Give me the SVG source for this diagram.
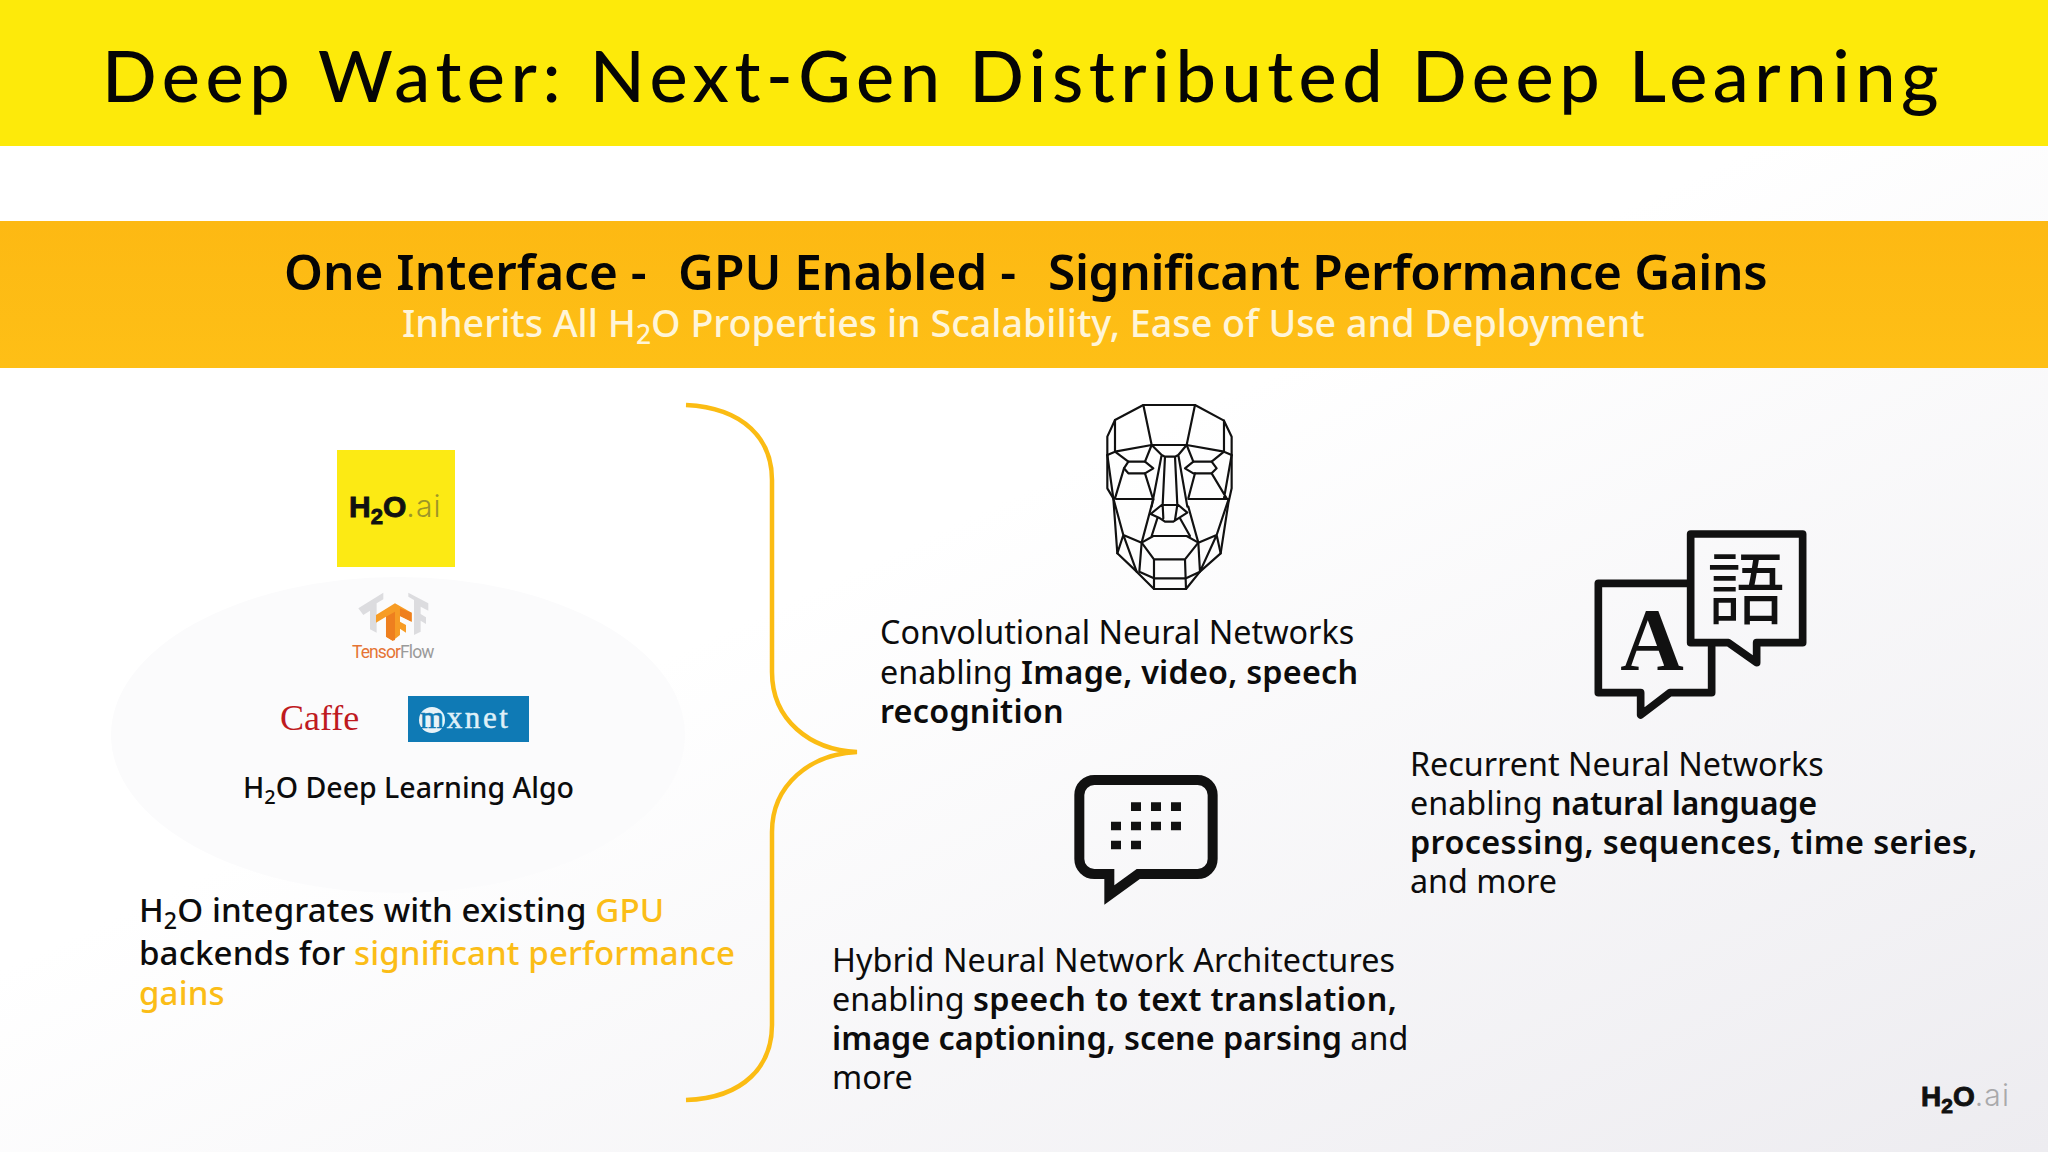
<svg xmlns="http://www.w3.org/2000/svg" width="2048" height="1152" viewBox="0 0 2048 1152">
<defs>
<linearGradient id="bg" x1="0.25" y1="0.1" x2="1" y2="1"><stop offset="0.35" stop-color="#ffffff"/><stop offset="1" stop-color="#edecf0"/></linearGradient>
<linearGradient id="band" x1="0" y1="0" x2="0" y2="1"><stop offset="0" stop-color="#fdb913"/><stop offset="1" stop-color="#febf16"/></linearGradient>
</defs>
<style>
text{font-family:"Noto Sans","Open Sans",sans-serif;fill:#0c0c0c}
.b{font-size:32.3px;font-weight:400}
.s{font-weight:600;letter-spacing:.25px}
.y{fill:#fbbd17}
.sub{font-size:70%}
.logo{font-family:"Liberation Sans",sans-serif;font-weight:700;stroke:#111;stroke-width:.9;fill:#111}
.ai{font-family:Inter,sans-serif;font-weight:300;stroke:none;letter-spacing:1.2px}
.face{fill:none;stroke:#111;stroke-width:6.5;stroke-linejoin:round;stroke-linecap:round}
</style>
<rect width="2048" height="1152" fill="url(#bg)"/>
<g id="title-band">
<rect width="2048" height="146" fill="#fdea0a"/>
<text x="102" y="102" style="font-family:Lato,sans-serif;font-size:72px;font-weight:500;letter-spacing:5.55px;fill:#050505">Deep Water: Next-Gen Distributed Deep Learning</text>
</g>
<g id="subtitle-band">
<rect y="221" width="2048" height="147" fill="url(#band)"/>
<text x="284" y="290" style="font-size:49.5px;font-weight:600;fill:#050505">One Interface - <tspan x="678">GPU Enabled - </tspan><tspan x="1048" style="letter-spacing:-.35px">Significant Performance Gains</tspan></text>
<text x="402" y="337" style="font-size:37.7px;font-weight:500;fill:#fff5d8">Inherits All H<tspan class="sub" dy="7" style="fill:#fff5d8">2</tspan><tspan dy="-7" style="fill:#fff5d8">O Properties in Scalability, Ease of Use and Deployment</tspan></text>
</g>
<g id="backends">
<ellipse cx="398" cy="735" rx="287" ry="158" fill="#fbfbfc"/>
<g id="h2o-logo">
<rect x="337" y="450" width="118" height="117" fill="#fcea14"/>
<text class="logo" x="349" y="517" font-size="30">H<tspan dy="7" font-size="22">2</tspan><tspan dy="-7">O</tspan><tspan class="ai" fill="#9c9628" font-size="30">.ai</tspan></text>
</g>
<g id="tensorflow-logo">
<path transform="translate(240 440) scale(.3333)" d="M355,505L430,458V478L410,490V578L390,568V512L370,525ZM505,458L565,490V512L542,500V522L558,532V552L542,542V575L522,585V480L505,470Z" fill="#dcdcdf"/>
<path transform="translate(240 440) scale(.3333)" d="M408,525L465,490L515,518V545L480,528V545L498,555V578L480,566V585L458,602L438,590V530L408,548Z" fill="#f79c25"/>
<path transform="translate(240 440) scale(.3333)" d="M438,530L465,515V600L458,602L438,590ZM480,528L515,545V518L480,505Z" fill="#ee7f1f"/>
<text x="352" y="658" style="font-family:Roboto,sans-serif;font-size:17.5px;letter-spacing:-.9px;fill:#e57434">Tensor<tspan style="fill:#9a9a9a">Flow</tspan></text>
</g>
<g id="caffe-logo">
<text x="280" y="730" style="font-family:'Liberation Serif',serif;font-size:36px;fill:#bf1a1f">Caffe</text>
</g>
<g id="mxnet-logo">
<rect x="408" y="696" width="121" height="46" fill="#0f7ab5"/>
<circle cx="432" cy="720" r="13" fill="#e9f3f8"/>
<text x="420" y="728" style="font-family:'Liberation Serif',serif;font-size:31px;font-weight:400;letter-spacing:2.6px;stroke:#dff0f8;stroke-width:.5;fill:#dff0f8"><tspan style="fill:#0f7ab5;stroke:#0f7ab5">m</tspan>xnet</text>
</g>
<text x="243" y="798" style="font-size:28.5px;font-weight:500">H<tspan class="sub" dy="6">2</tspan><tspan dy="-6">O Deep Learning Algo</tspan></text>
<text class="b" style="font-size:33.1px;font-weight:500;letter-spacing:.1px"><tspan x="139" y="922">H</tspan><tspan class="sub" dy="7">2</tspan><tspan dy="-7">O integrates with existing </tspan><tspan class="y">GPU</tspan><tspan x="139" y="965">backends for </tspan><tspan class="y">significant performance</tspan><tspan class="y" x="139" y="1005">gains</tspan></text>
</g>
<g id="connectors">
<path id="brace" d="M686,405C745,408 772,440 772,480V672C772,720 810,750 857,752C810,754 772,785 772,832V1025C772,1065 745,1098 686,1100" fill="none" stroke="#fbbc13" stroke-width="4.5"/>
</g>
<g id="cnn">
<g class="face" transform="translate(1080 390) scale(.3333)">
<path d="M190,45H345L432,92L455,140V295L445,340L422,490L360,545L318,597H222L170,545L112,490L100,325L82,295V140L105,90Z"/>
<path d="M190,45L215,165H320L345,45M105,90V185M432,92V185M82,195L105,185L215,165M320,165L432,185L455,195"/>
<path d="M132,235L145,215H195L220,235L195,250H145ZM315,235L340,215H395L410,235L395,250H340Z"/>
<path d="M215,165L195,215M105,185L145,215M82,195L100,325M132,235L105,325M195,250L220,330M320,165L340,215M432,185L395,215M345,250L325,325M395,250L440,325M455,195L432,325M108,327H215M325,327H445"/>
<path d="M215,165L245,195L255,200H285L295,195L320,165M245,195L215,350M295,195L322,350M255,200L248,345M285,200L292,345"/>
<path d="M212,372L245,345H295L322,368L295,385L280,395H255L240,385ZM248,345L250,385M292,345L285,390"/>
<path d="M185,458L220,438H320L355,458L315,508H222ZM222,508V597M315,508L318,597M222,565H318M232,385L215,438M300,385L330,438"/>
<path d="M100,325L130,435L185,458M130,435L112,490M130,435L170,545M185,458L178,545L222,565M355,458L360,545L318,565M410,435L355,458M410,435L422,490M410,435L360,545M445,330L410,435M220,327L185,458M325,350L355,458"/>
</g>
<text class="b"><tspan x="880" y="644">Convolutional Neural Networks</tspan><tspan x="880" y="684">enabling </tspan><tspan class="s">Image, video, speech</tspan><tspan class="s" x="880" y="723">recognition</tspan></text>
</g>
<g id="hybrid">
<g transform="translate(1060 760) scale(.3333)">
<path d="M235,342H413A45,45 0 0 0 458,297V105A45,45 0 0 0 413,60H103A45,45 0 0 0 58,105V297A45,45 0 0 0 103,342H148V405Z" fill="none" stroke="#111" stroke-width="30" stroke-miterlimit="6"/>
<path d="M213,127h30v26h-30zM273,127h30v26h-30zM333,127h30v26h-30zM153,185h30v26h-30zM213,185h30v26h-30zM273,185h30v26h-30zM333,185h30v26h-30zM153,242h30v26h-30zM213,242h30v26h-30z" fill="#111"/>
</g>
<text class="b"><tspan x="832" y="972" style="letter-spacing:.11px">Hybrid Neural Network Architectures</tspan><tspan x="832" y="1011">enabling </tspan><tspan class="s" style="letter-spacing:.4px">speech to text translation,</tspan><tspan class="s" x="832" y="1050" style="letter-spacing:0">image captioning, scene parsing</tspan><tspan> and</tspan><tspan x="832" y="1089">more</tspan></text>
</g>
<g id="rnn">
<g transform="translate(1580 520) scale(.3333)" fill="none" stroke="#111" stroke-width="23" stroke-linejoin="round" stroke-linecap="round">
<path d="M395,380V518H270L182,585V518H55V190H322"/>
<path d="M332,42H668V368H530V428L445,368H332Z"/>
</g>
<text x="1652" y="669" text-anchor="middle" style="font-family:'Liberation Serif',serif;font-weight:700;font-size:88px;fill:#111">A</text>
<text x="1746" y="618" text-anchor="middle" style="font-family:'Noto Sans CJK JP',sans-serif;font-size:78px;font-weight:400;fill:#111">語</text>
<text class="b"><tspan x="1410" y="776">Recurrent Neural Networks</tspan><tspan x="1410" y="815">enabling </tspan><tspan class="s" style="letter-spacing:-.3px">natural language</tspan><tspan class="s" x="1410" y="854" style="letter-spacing:.4px">processing, sequences, time series,</tspan><tspan x="1410" y="893">and more</tspan></text>
</g>
<g id="footer-logo">
<text class="logo" x="1921" y="1106" font-size="28">H<tspan dy="7" font-size="21">2</tspan><tspan dy="-7">O</tspan><tspan class="ai" fill="#a9a9ab" font-size="30">.ai</tspan></text>
</g>
</svg>
